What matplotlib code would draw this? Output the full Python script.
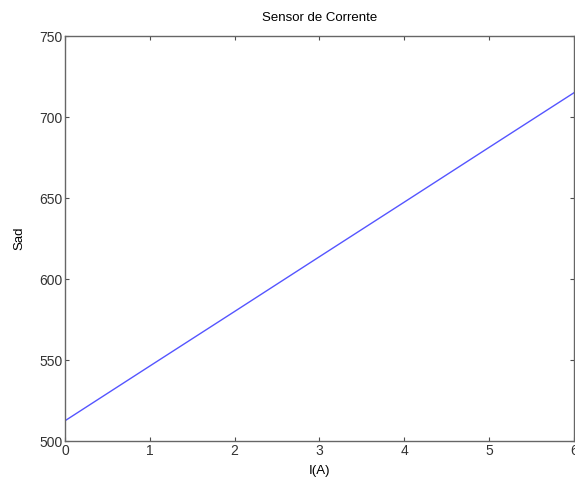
import matplotlib
matplotlib.use('Agg')
import matplotlib.pyplot as plt

corrente = [0, 1, 2, 3, 4, 5, 6]
sad = [512.5, 546.3, 580.0, 613.8, 647.5, 681.3, 715.0]

xticks = [0, 1, 2, 3, 4, 5, 6]
yticks = [500, 550, 600, 650, 700, 750]

plt.rcParams['font.family'] = 'Liberation Sans'

fig = plt.figure(figsize=(5.75, 4.82), dpi=100)
ax = fig.add_axes([0.113, 0.085, 0.885, 0.840])

ax.plot(corrente, sad, color='#5555ff', linewidth=1.0)

ax.set_xlim(0, 6)
ax.set_ylim(500, 750)
ax.set_xticks(xticks)
ax.set_yticks(yticks)
ax.tick_params(direction='in', top=True, right=True, length=3, width=0.8,
               color='0.3', labelcolor='0.2', labelsize=10, pad=2)
for s in ax.spines.values():
    s.set_color('0.4')
    s.set_linewidth(1.0)

ax.set_title('Sensor de Corrente', fontsize=9.5, pad=11)
ax.set_xlabel('I(A)', fontsize=9.5, labelpad=5)
ax.set_ylabel('Sad', fontsize=9.5, labelpad=10)

fig.savefig('out.png', dpi=100)
